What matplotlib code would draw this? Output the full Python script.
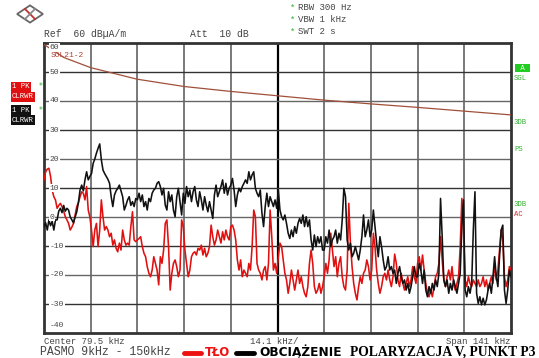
import matplotlib.pyplot as plt
import matplotlib.patches as mpatches
import matplotlib.transforms as mtransforms
import numpy as np

# sweep 9 kHz ... 150 kHz, values in dBuA/m
f_start, f_stop = 9.0, 150.0

tlo = [  # red trace (background)
    12.8, 15.6, 16.5, 16.8, 14, 9.3, 7, 5.9, 3, 4, 4.7, 3.6, 2, 0.1, -1, -2.2, -4.5, -3.5, -2.2, 0.7,
    3.6, 5, 7, 8.7, 8.2, 5.9, 10.5, 2.4, 0, -4.5, -10.2, -4.5, -2.2, -10.2, -4.5, 5.9, 0, -4.5, -3.3, -4.5,
    -6.8, -5.6, -9.7, -7.9, -10.8, -12, -9, -11.4, -4.5, -7.9, -9.7, -9, -9.7, -3.3, 1.8, -7.9, -8.5,
    -7.9, -7.4, -6.8, -10.2, -12.5, -13.7, -17.1, -19.4, -20.6, -18.3, -13.7, -16, -18.3, -23.4, -13.7, -16,
    -11.4, -2.2, -1, -10.2, -25.2, -19.4, -16, -14.8, -17.1, -20.6, -18.3, -1, -3.3, -11.4, -16, -20.6,
    -18.3, -13.7, -12.5, -12, -13.1, -10.8, -11.4, -9.7, -13.1, -10.8, -13.7, -12.5, -10.2, -2.8, -6.8,
    -9.7, -7.9, -4.5, -6.8, -9, -5.1, -7.9, -4.5, -6.8, -7.9,
    -3.3, -2.8, -4.5, -7.9, -14.8, -18.3, -14.8, -20.6, -18.3, -19.4, -20.6, -16, -18.3, -10.2, 2.4, 0.1,
    -16, -18.3, -19.4, -21.7, -18.3, -17.1, -21.7, -16, 2.4, -6.8, -18.3, -16, -19.4, -13.7, -9, -10.2,
    -14.8, -19.4, -21.7, -26.3, -22.9, -18.3, -21.7, -25.2, -21.7, -18.3, -22.9, -20.6, -24, -26.3, -27.5,
    -24, -16, -11.4, -16, -24, -26.3, -25.2, -22.9, -26.3, -24,
    -20.6, -16, -19.4, -14.8, -5.6, -11.4, -17.1, -13.7, -20.6, -16, -13.7, -20.6, -24, -25.2, -18.3, 4.7,
    -9, -17.1, -22.9, -26.3, -28.6, -24, -20.6, -22.9, -19.4, -18.3, -14.8, -17.1, -21.7, -18.3, -5.6,
    -10.2, -18.3, -22.9, -26.3, -24, -20.6, -19.4, -21.7, -18.3, -21.7, -24, -20.6, -12.8, -16, -21.7,
    -24, -19.4, -22.9, -25.2, -22.9, -20.6, -24, -21.7, -17.1, -20.6, -22.9,
    -16, -13.7, -18.3, -13.1, -18.3, -22.9, -26.3, -27.5, -25.2, -27.5, -24, -20.6, -19.4, -16, -6.8,
    -14.8, -21.7, -24, -20.6, -18.3, -21.7, -17.1, -22.9, -25.2, -22.9, -20.6, -10.2, 6.4, -4.5, -21.7,
    -24, -20.6, -22.9, -24, -21.7, -22.9, -24, -21.7, -24, -22.9, -20.6, -24, -21.7, -25.2, -22.9, -20.6,
    -22.9, -16, -21.7, -18.3, -11.4, -4.5, -7.9, -20.6, -24, -21.7, -17.1, -18.3,
]

obciazenie = [  # black trace (load)
    -3.3, -2, -4.5, -1, -3, -1.5, -4.5, -1, -1, 2, 3, 1.5, 4, 2, 3, 2.4, 0, -1, -2, 0,
    1.8, 5, 9.3, 11, 9, 12.8, 15.6, 12.8, 14, 15, 18.5, 20, 22, 23.7, 25.2, 19.7, 16.2, 15, 14, 13,
    11.6, 7, 3.6, 7.6, 9, 9.9, 11, 9, 7, 2.4, 4, 5.9, 7, 4, 5.3, 3.6, 6.4,
    5.9, 8.2, 5.3, 7.6, 3.6, 5.3, 2.4, 6.4, 5.3, 8.2, 9.3, 9.9, 11.6, 12.2, 10.5, 7.6, 9.9, 4.1, 2.4, 8.7,
    5.3, 7.6, 2.4, 0.1, 7, 9.9, 5.3, 0.7, 8.2, 4.7, 10.5, 7, 9.3, 5.3, 8.7, 10.5, 5.9, 3.6, 8.7, 5.9,
    2.4, 7, 4.1, 1.8, 5.3, 2.4, -0.5, 7.6, 11, 7, 8.7, 10.5, 12.8, 8.2, 11.6, 7.6, 9.9,
    11, 13.3, 9.3, 3.6, 7.6, 9.9, 8.7, 10.5, 11.6, 12.8, 11.6, 15.6, 12.8, 14.5, 15.6, 9.9, 8.2, 7, 9.3,
    1.3, -3.3, 3.6, 8.2, 3.6, 7, 5.3, 3.6, 5.9, 3, 9.3, 2.4, 0.1, -1, 0.7, -2.2, -5.6, -7.4, -4.5, -6.8,
    -3.3, -5.6, -2.2, -0.5, -2.2, 0.7, -3.3, 0.1, -3.3, -1, -7.9, -11.4, -6.2, -10.2, -6.8, -9, -6.8, -11.4,
    -11.4, -6.8, -9, -4.5, -10.2, -7.9, -6.8, -4.5, -9, -5.6, -7.9, -1, 9.9, 7, -7.9, -11.4, -9, -13.7,
    -12.5, -10.2, -12.5, -14.8, -11.4, -6.8, 0.7, -6.8, -4.5, -1, -6.8, -4.5, 2.4, -3.3, -9, -13.7, -6.8,
    -10.2, -14.8, -18.3, -17.1, -13.7, -18.3, -17.1, -19.4, -18.3, -22.9, -19.4, -17.1, -20.6, -22.9, -21.7,
    -25.2, -22.9, -26.3, -24, -20.6, -17.1, -20.6,
    -20.6, -16, -18.3, -22.9, -18.3, -25.2, -27.5, -24, -26.3, -22.9, -25.2, -21.7, -24, -19.4, 6.4, -6.8,
    -21.7, -24, -21.7, -26.3, -22.9, -25.2, -21.7, -24, -26.3, -22.9, -19.4, -3.3, 5.9, -25.2, -27.5, -24,
    -26.3, -22.9, -4.5, 8.7, -26.3, -29.8, -27.5, -30.3, -28, -30.3, -28.6, -25.2, -22.9, -26.3, -20.6,
    -13.7, -20.6, -24, -13.7, -4.5, -2.8, -25.2, -29.8, -25.2, -18.3, -20.6,
]

# limit line SOL21-2, values at every division
limit_f = [9.0, 15.0, 23.1, 37.2, 51.3, 65.4, 79.5, 93.6, 107.7, 121.8, 135.9, 150.0]
limit_v = [59.5, 55.0, 51.5, 47.5, 45.0, 43.3, 41.8, 40.3, 39.0, 37.8, 36.5, 35.2]

y_labels = [60, 50, 40, 30, 20, 10, 0, -10, -20, -30, -40]

mono = 'Liberation Mono'
grey = '#444444'
green = '#30b030'

fig = plt.figure(figsize=(5.39, 3.58), dpi=100)
W, H = 539, 358
ax = fig.add_axes([44 / W, 1 - 333 / H, 467 / W, 290 / H])
ax.set_xlim(f_start, f_stop)
ax.set_ylim(-40, 60)

# grid, 10 x 10 divisions
div = (f_stop - f_start) / 10
for k in range(1, 10):
    fx = f_start + k * div
    ax.axvline(fx, color='black' if k == 5 else '#555555', lw=1.6 if k == 5 else 1.1, zorder=1)
for v in range(-30, 60, 10):
    ax.axhline(v, color='#333333' if v % 20 else '#666666', lw=1.0, zorder=1)

ax.set_xticks([])
ax.set_yticks([])
for s in ax.spines.values():
    s.set_linewidth(2.0)
    s.set_color('#333333')

freqs_r = np.linspace(f_start, f_stop, len(tlo))
freqs_b = np.linspace(f_start, f_stop, len(obciazenie))
ax.plot(freqs_r, tlo, color='#e01010', lw=1.15, zorder=3)
ax.plot(freqs_b, obciazenie, color='#111111', lw=1.15, zorder=4)
ax.plot(limit_f, limit_v, color='#a0503a', lw=0.9, zorder=5)

# level labels inside the grid
trans = mtransforms.blended_transform_factory(ax.transAxes, ax.transData)
for v in y_labels:
    yy = v
    va = 'center'
    if v == 60:
        yy, va = 59.6, 'top'
    if v == -40:
        yy = -37.5
    ax.text(0.012, yy, str(v), transform=trans, fontsize=5.8, family=mono, color=grey,
            ha='left', va=va, zorder=6,
            bbox=dict(boxstyle='square,pad=0.1', fc='white', ec='none'))
ax.text(0.015, 55.2, 'SOL21-2', transform=trans, fontsize=5.8, family=mono, color='#b04030', zorder=6)

# header
fig.text(44 / W, 1 - 34 / H, 'Ref  60 dB\u00b5A/m', fontsize=7, family=mono, color=grey, va='center')
fig.text(190 / W, 1 - 34 / H, 'Att  10 dB', fontsize=7, family=mono, color=grey, va='center')
for i, t in enumerate(['RBW 300 Hz', 'VBW 1 kHz', 'SWT 2 s']):
    yy = 1 - (8 + 12 * i) / H
    fig.text(290 / W, yy, '*', fontsize=6.5, family=mono, color=green, va='center')
    fig.text(298 / W, yy, t, fontsize=6.5, family=mono, color=grey, va='center')

# R&S logo
logo = mpatches.RegularPolygon((30 / W, 1 - 14 / H), 4, radius=0.024, orientation=0,
                               transform=fig.transFigure, fc='white', ec='#666666', lw=1.3)
fig.patches.append(logo)
fig.lines.append(plt.Line2D([25 / W, 35 / W], [1 - 9 / H, 1 - 19 / H], transform=fig.transFigure,
                            color='#c03030', lw=1.3))
fig.lines.append(plt.Line2D([25 / W, 35 / W], [1 - 19 / H, 1 - 9 / H], transform=fig.transFigure,
                            color='#888888', lw=1.3))

# trace boxes on the left
def box(x, y, text, fc):
    fig.text(x / W, 1 - y / H, text, fontsize=5.2, family=mono, color='white', va='center',
             bbox=dict(boxstyle='square,pad=0.15', fc=fc, ec='none'))

box(12, 87, '1 PK', '#e01010')
box(12, 97, 'CLRWR', '#e01010')
box(12, 110, '1 PK', '#111111')
box(12, 120, 'CLRWR', '#111111')
fig.text(39 / W, 1 - 87 / H, '*', fontsize=5.5, color=green, va='center')
fig.text(39 / W, 1 - 110 / H, '*', fontsize=5.5, color=green, va='center')

# status markers on the right
fig.text(516 / W, 1 - 68 / H, ' A ', fontsize=5.2, family=mono, color='white', va='center',
         bbox=dict(boxstyle='square,pad=0.1', fc='#22cc22', ec='none'))
for t, y, c in [('SGL', 78, green), ('3DB', 123, green), ('PS', 150, green),
                ('3DB', 205, green), ('AC', 214, '#d03030')]:
    fig.text(514 / W, 1 - y / H, t, fontsize=5.2, family=mono, color=c, va='center')

# footer
fig.text(44 / W, 1 - 341 / H, 'Center 79.5 kHz', fontsize=6.5, family=mono, color=grey, va='center')
fig.text(250 / W, 1 - 341 / H, '14.1 kHz/', fontsize=6.5, family=mono, color=grey, va='center')
fig.text(511 / W, 1 - 341 / H, 'Span 141 kHz', fontsize=6.5, family=mono, color=grey, va='center', ha='right')

fig.text(40 / W, 1 - 352 / H, 'PASMO 9kHz - 150kHz', fontsize=8.3, family=mono, color=grey, va='center')
fig.lines.append(plt.Line2D([184 / W, 201 / W], [1 - 353 / H] * 2, transform=fig.transFigure,
                            color='#ee1111', lw=3.5, solid_capstyle='round'))
fig.text(205 / W, 1 - 352 / H, 'TŁO', fontsize=8.5, weight='bold', color='#ee1111', va='center')
fig.lines.append(plt.Line2D([236 / W, 254 / W], [1 - 353 / H] * 2, transform=fig.transFigure,
                            color='black', lw=3.5, solid_capstyle='round'))
fig.text(259 / W, 1 - 352 / H, 'OBCIĄŻENIE', fontsize=8.7, weight='bold', color='black', va='center')
fig.text(350 / W, 1 - 352 / H, 'POLARYZACJA V, PUNKT P3', fontsize=9.8, weight='bold',
         family='Liberation Serif', color='black', va='center')

fig.savefig('out.png', dpi=100)
